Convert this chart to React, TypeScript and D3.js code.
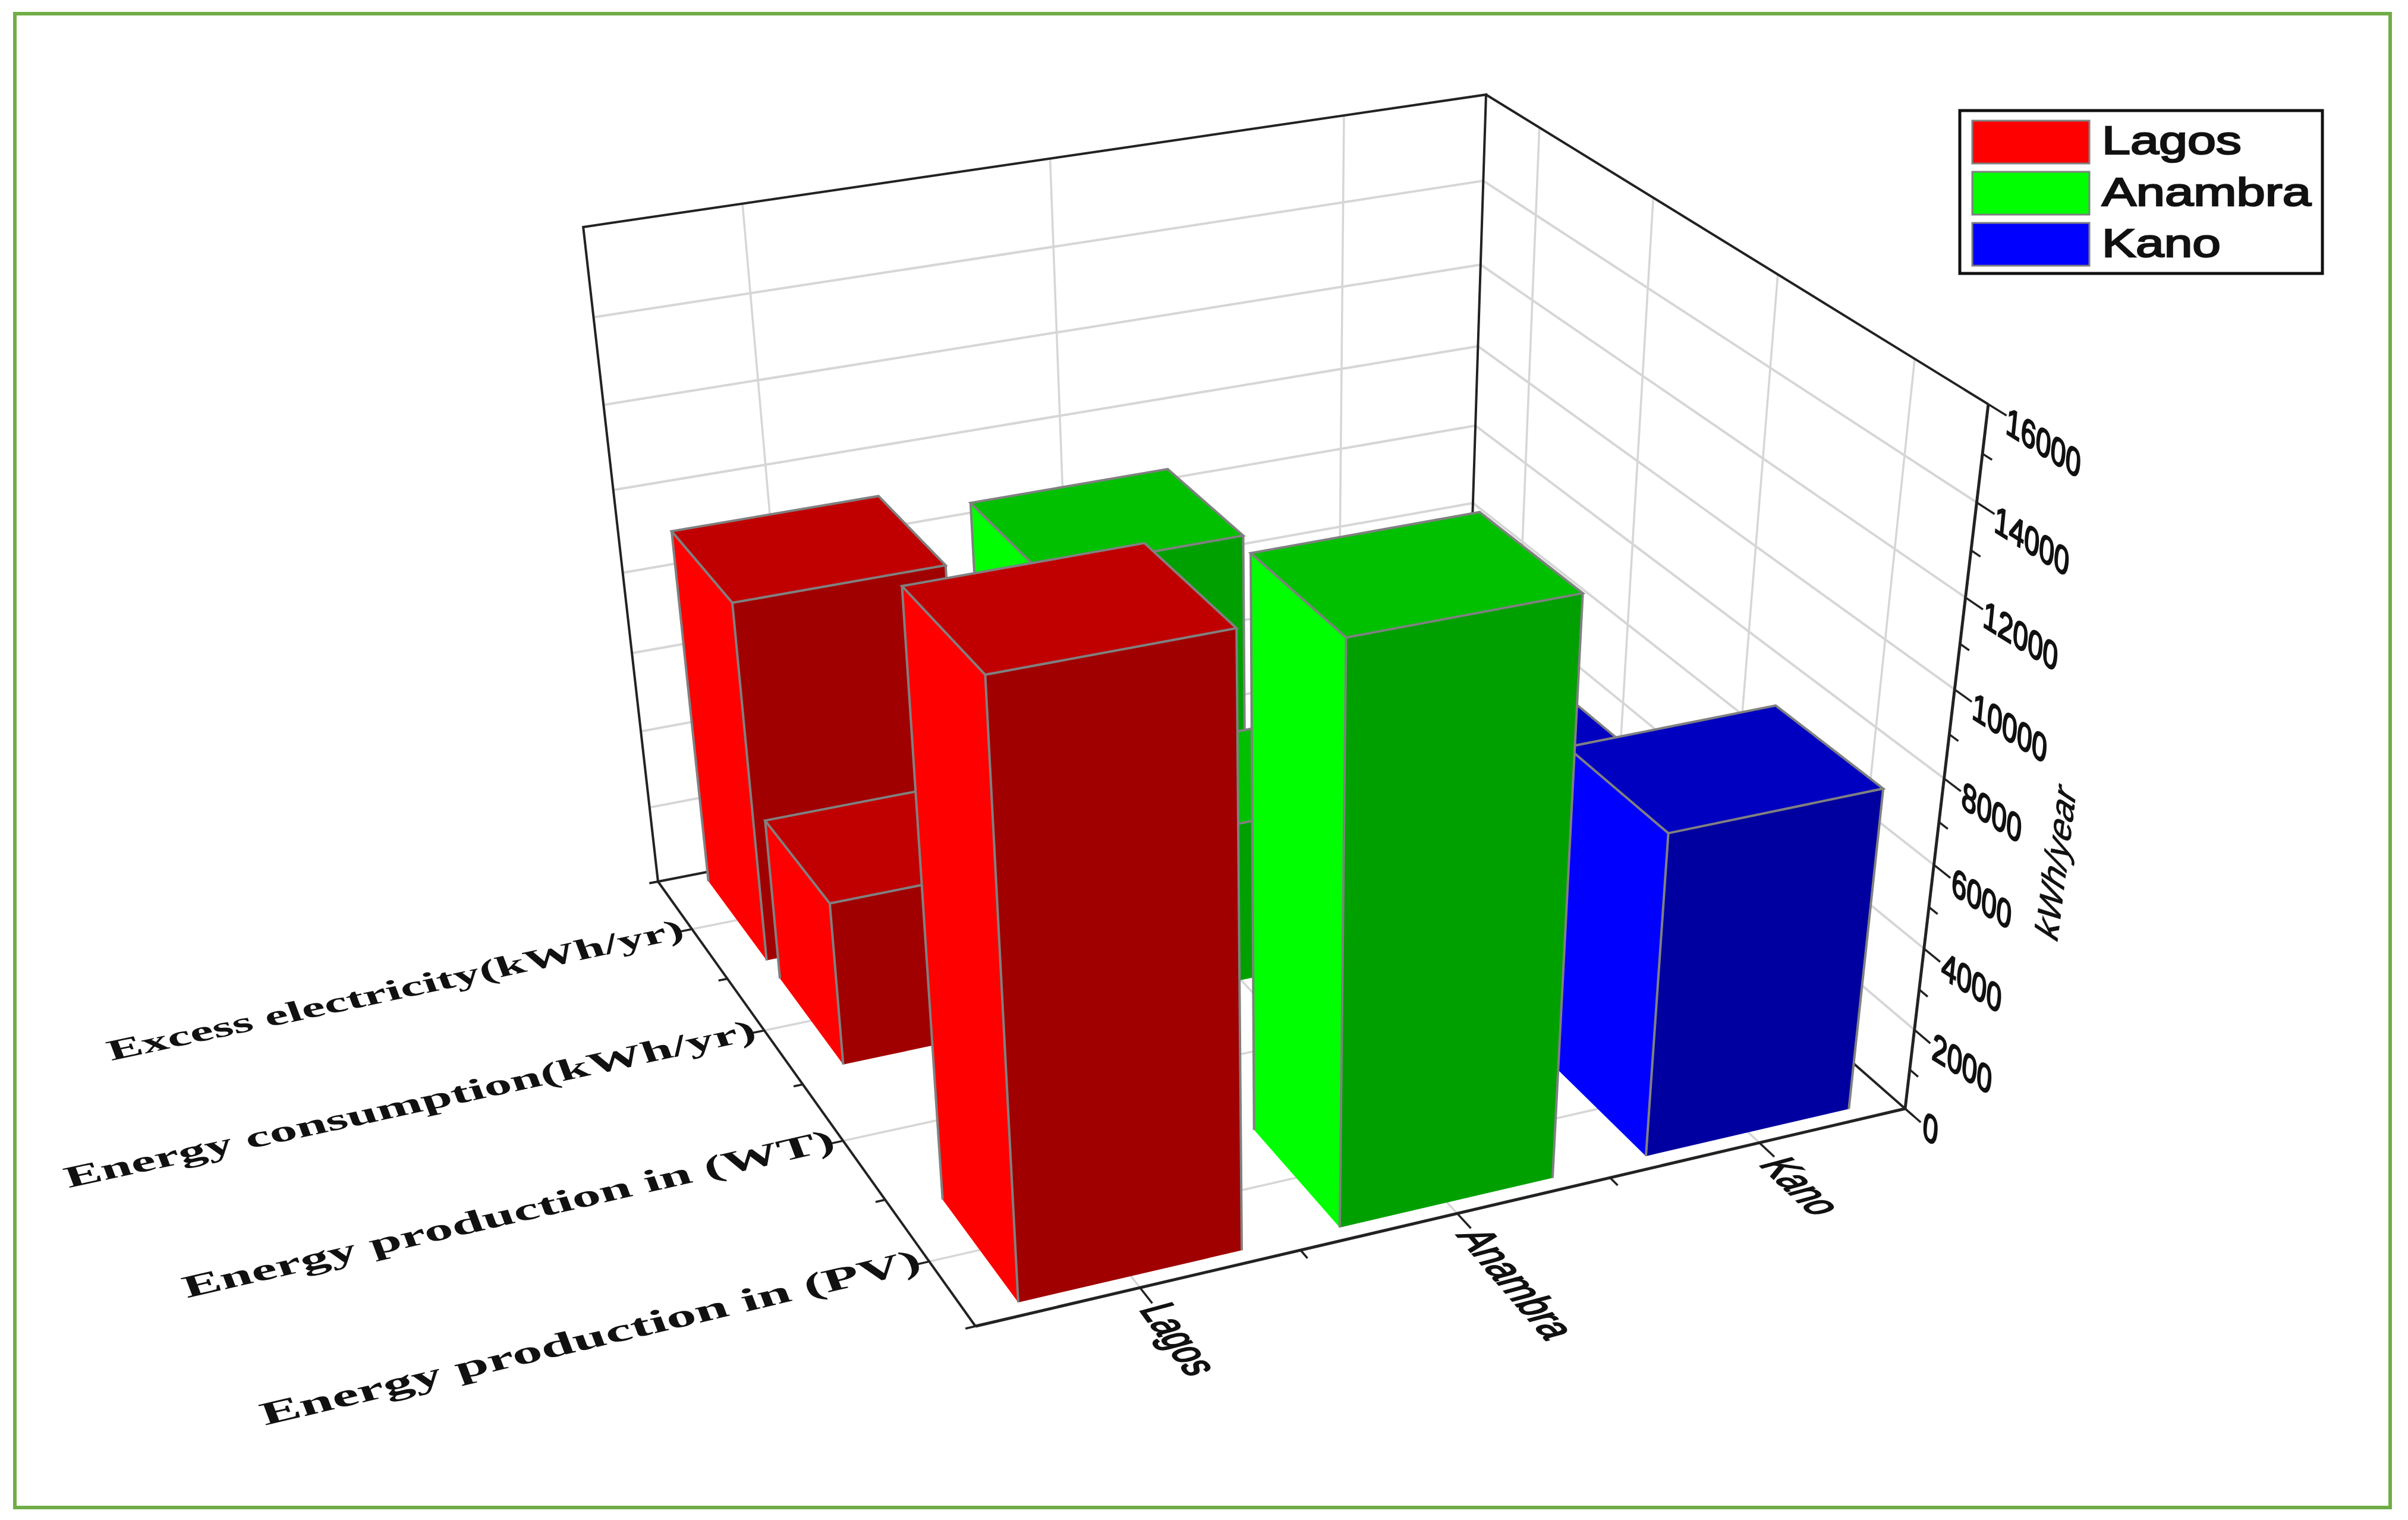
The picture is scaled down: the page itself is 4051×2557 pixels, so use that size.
import * as d3 from "d3";
import * as React from "react";

// data
const cities = ["Lagos", "Anambra", "Kano"];
const rows = [
  "Energy production in (PV)",
  "Energy production in (WT)",
  "Energy consumption(kWh/yr)",
  "Excess electricity(kWh/yr)",
];
const lagosValues = [14000, 0, 4100, 9000];
const anambraValues = [13400, 0, 4050, 8450];
const kanoValues = [7780, 0, 4080, 4800];
const zTicks = [0, 2000, 4000, 6000, 8000, 10000, 12000, 14000, 16000];
const zMinor = [1000, 3000, 5000, 7000, 9000, 11000, 13000, 15000];
const shades = [
  ["#ff0000", "#a00000", "#c00000"],
  ["#00ff00", "#00a000", "#00c000"],
  ["#0000ff", "#0000a0", "#0000c0"],
];
const legendColors = ["#ff0000", "#00ff00", "#0000ff"];
const values = [lagosValues, anambraValues, kanoValues];

// label widths and directions, only layout
const rowLabelLen = [1138, 1122, 1187, 989];
const rowLabelAngle = [-13.3, -12.9, -12.2, -12.1];
const rowLabelSize = [56, 54, 52, 50];
const cityLabelLen = [142, 234, 128];
const cityLabelAngle = [54, 49.5, 43.7];
const legendLen = [235, 352, 200];

// calibration of the 3D box on the page
const floorFL = [1641, 2231];
const floorFR = [3205, 1865];
const floorBR = [2466, 1217];
const floorBL = [1107, 1483];
const topFR = [3345, 680];
const vertical = [2161, 10705];

function makeProjection() {
  const [x0, y0] = floorFL;
  const [x1, y1] = floorFR;
  const [x2, y2] = floorBR;
  const [x3, y3] = floorBL;
  const dx1 = x1 - x2;
  const dx2 = x3 - x2;
  const sx = x0 - x1 + x2 - x3;
  const dy1 = y1 - y2;
  const dy2 = y3 - y2;
  const sy = y0 - y1 + y2 - y3;
  const den = dx1 * dy2 - dx2 * dy1;
  const g = (sx * dy2 - dx2 * sy) / den;
  const h = (dx1 * sy - sx * dy1) / den;
  const a = x1 - x0 + g * x1;
  const b = x3 - x0 + h * x3;
  const d = y1 - y0 + g * y1;
  const e = y3 - y0 + h * y3;
  const wFR = g + 1;
  const t = (wFR * (topFR[1] - y1)) / (vertical[1] - topFR[1]);
  return (u: number, v: number, w: number): [number, number] => {
    const W = g * u + h * v + 1 + t * w;
    const X = a * u + b * v + x0 + t * w * vertical[0];
    const Y = d * u + e * v + y0 + t * w * vertical[1];
    return [X / W, Y / W];
  };
}

const project = makeProjection();
const uScale = d3.scaleLinear().domain([-0.5, 2.5]).range([0, 1]);
const vScale = d3.scaleLinear().domain([-0.5, 3.5]).range([0, 1]);
const zScale = d3.scaleLinear().domain([0, 16000]).range([0, 1]);
const path = d3.line();
const poly = (pts: [number, number][]) => path(pts) + "Z";

const BAR_U = 0.69;
const BAR_V = 0.82;

function Seg({ a, b, stroke, width }: any) {
  return <path d={path([a, b]) as string} stroke={stroke} strokeWidth={width} fill="none" />;
}

function SkewText({ x, y, angle, down, len, size, anchor, family, weight, bold, children }: any) {
  const r = (angle * Math.PI) / 180;
  const m = [Math.cos(r), Math.sin(r), down[0], down[1], x, y].join(",");
  return (
    <text
      transform={`matrix(${m})`}
      textLength={len}
      lengthAdjust="spacingAndGlyphs"
      textAnchor={anchor || "start"}
      fontFamily={family}
      fontWeight={weight || "normal"}
      fontSize={size}
      fill="#111"
      stroke="#111"
      strokeWidth={bold}
    >
      {children}
    </text>
  );
}

function Bar({ c, r, value }: any) {
  const u0 = uScale(c - BAR_U / 2);
  const u1 = uScale(c + BAR_U / 2);
  const v0 = vScale(r - BAR_V / 2);
  const v1 = vScale(r + BAR_V / 2);
  const w = zScale(value);
  const [left, front, top] = shades[c];
  const edge = "#808080";
  const fl0 = project(u0, v0, 0);
  const fr0 = project(u1, v0, 0);
  const bl0 = project(u0, v1, 0);
  const fl1 = project(u0, v0, w);
  const fr1 = project(u1, v0, w);
  const bl1 = project(u0, v1, w);
  const br1 = project(u1, v1, w);
  return (
    <g>
      <path d={poly([bl0, fl0, fl1, bl1])} fill={left} />
      <path d={poly([fl0, fr0, fr1, fl1])} fill={front} />
      <path d={poly([fl1, fr1, br1, bl1])} fill={top} stroke={edge} strokeWidth={4} />
      <Seg a={fl0} b={fl1} stroke={edge} width={4} />
      <Seg a={fr0} b={fr1} stroke={edge} width={4} />
      <Seg a={bl0} b={bl1} stroke={edge} width={4} />
    </g>
  );
}

export default function App() {
  const grid = "#d6d6d6";
  const axis = "#222";
  const rowOrder = d3.range(rows.length).reverse();
  const cityOrder = d3.range(cities.length).reverse();

  return (
    <svg
      width={4051}
      height={2557}
      viewBox="0 0 4051 2557"
      style={{ position: "absolute", left: 0, top: 0, background: "#fff" }}
    >
      <rect x={25} y={23} width={3996} height={2513} fill="#fff" stroke="#70ad47" strokeWidth={6} />

      {/* walls and floor grid */}
      {zTicks.slice(1, -1).map((z) => (
        <g key={z}>
          <Seg a={project(0, 1, zScale(z))} b={project(1, 1, zScale(z))} stroke={grid} width={4} />
          <Seg a={project(1, 1, zScale(z))} b={project(1, 0, zScale(z))} stroke={grid} width={4} />
        </g>
      ))}
      {cities.map((_, i) => (
        <g key={i}>
          <Seg a={project(uScale(i), 1, 1)} b={project(uScale(i), 1, 0)} stroke={grid} width={3.5} />
          <Seg a={project(uScale(i), 1, 0)} b={project(uScale(i), 0, 0)} stroke={grid} width={3.5} />
        </g>
      ))}
      {rows.map((_, i) => (
        <g key={i}>
          <Seg a={project(1, vScale(i), 1)} b={project(1, vScale(i), 0)} stroke={grid} width={3.5} />
          <Seg a={project(1, vScale(i), 0)} b={project(0, vScale(i), 0)} stroke={grid} width={3.5} />
        </g>
      ))}

      {/* box frame */}
      <path
        d={poly([project(0, 1, 1), project(1, 1, 1), project(1, 1, 0), project(0, 1, 0)])}
        fill="none"
        stroke={axis}
        strokeWidth={4}
      />
      <Seg a={project(1, 1, 1)} b={project(1, 0, 1)} stroke={axis} width={4} />
      <Seg a={project(1, 1, 0)} b={project(1, 0, 0)} stroke={axis} width={4} />
      <Seg a={project(1, 0, 0)} b={project(1, 0, 1)} stroke={axis} width={5} />
      <Seg a={project(0, 0, 0)} b={project(1, 0, 0)} stroke={axis} width={5} />
      <Seg a={project(0, 0, 0)} b={project(0, 1, 0)} stroke={axis} width={4} />

      {/* ticks */}
      {zTicks.map((z) => (
        <Seg key={z} a={project(1, 0, zScale(z))} b={project(1, -0.03, zScale(z))} stroke={axis} width={3.5} />
      ))}
      {zMinor.map((z) => (
        <Seg key={z} a={project(1, 0, zScale(z))} b={project(1, -0.016, zScale(z))} stroke={axis} width={3.5} />
      ))}
      {cities.map((_, i) => (
        <g key={i}>
          <Seg a={project(uScale(i), 0, 0)} b={project(uScale(i), -0.03, 0)} stroke={axis} width={3.5} />
          <Seg a={project(uScale(i + 0.5), 0, 0)} b={project(uScale(i + 0.5), -0.016, 0)} stroke={axis} width={3.5} />
        </g>
      ))}
      {rows.map((_, i) => (
        <g key={i}>
          <Seg a={project(0, vScale(i), 0)} b={project(-0.018, vScale(i), 0)} stroke={axis} width={3.5} />
          <Seg a={project(0, vScale(i + 0.5), 0)} b={project(-0.01, vScale(i + 0.5), 0)} stroke={axis} width={3.5} />
        </g>
      ))}
      <Seg a={project(0, 1, 0)} b={project(-0.01, 1, 0)} stroke={axis} width={3.5} />
      <Seg a={project(0, 0, 0)} b={project(-0.01, 0, 0)} stroke={axis} width={3.5} />

      {/* bars, back row first */}
      {rowOrder.map((r) =>
        cityOrder
          .filter((c) => values[c][r] > 0)
          .map((c) => <Bar key={`${c}-${r}`} c={c} r={r} value={values[c][r]} />)
      )}

      {/* z tick labels */}
      {zTicks.map((z) => {
        const [x, y] = project(1, 0, zScale(z));
        return (
          <SkewText
            key={z}
            x={x + 28}
            y={y + 48}
            angle={31.8}
            down={[-0.1, 1]}
            len={String(z).length * 29.4}
            size={64}
            family="Liberation Sans"
            bold={2.6}
          >
            {z}
          </SkewText>
        );
      })}
      {/* z title */}
      {(() => {
        const [x, y] = project(1, 0, zScale(6000));
        return (
          <SkewText x={x + 207} y={y + 133} angle={-82.8} down={[0.84, 0.55]} len={255} size={62} family="Liberation Sans" bold={1}>
            kWh/year
          </SkewText>
        );
      })()}

      {/* city labels */}
      {cities.map((name, i) => {
        const [x, y] = project(uScale(i), 0, 0);
        return (
          <SkewText
            key={name}
            x={x - 2}
            y={y + 36}
            angle={cityLabelAngle[i]}
            down={[-0.96, 0.26]}
            len={cityLabelLen[i]}
            size={80}
            family="Liberation Sans"
            bold={3}
          >
            {name}
          </SkewText>
        );
      })}

      {/* row labels */}
      {rows.map((name, i) => {
        const [x, y] = project(0, vScale(i), 0);
        return (
          <SkewText
            key={name}
            x={x - 10}
            y={y + 14}
            angle={rowLabelAngle[i]}
            down={[0.35, 0.93]}
            len={rowLabelLen[i]}
            size={rowLabelSize[i]}
            anchor="end"
            family="Liberation Serif"
            weight="bold"
            bold={0}
          >
            {name}
          </SkewText>
        );
      })}

      {/* legend */}
      <rect x={3297} y={186} width={610} height={274} fill="#fff" stroke="#111" strokeWidth={5} />
      {cities.map((name, i) => (
        <g key={name}>
          <rect x={3318} y={203 + i * 86} width={197} height={72} fill={legendColors[i]} stroke="#808080" strokeWidth={3} />
          <text
            x={3536}
            y={259 + i * 86.5}
            fontFamily="Liberation Sans"
            fontSize={66}
            textLength={legendLen[i]}
            lengthAdjust="spacingAndGlyphs"
            fill="#111"
            stroke="#111"
            strokeWidth={2.4}
          >
            {name}
          </text>
        </g>
      ))}
    </svg>
  );
}
